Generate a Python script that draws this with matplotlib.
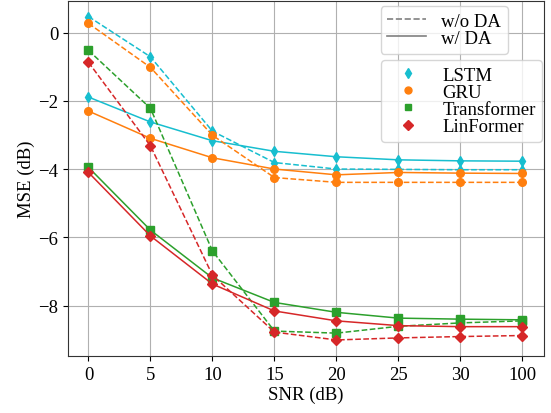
import matplotlib
matplotlib.use("Agg")
import matplotlib.pyplot as plt
from matplotlib.lines import Line2D

plt.rcParams['font.family'] = ['Liberation Serif', 'DejaVu Serif']
plt.rcParams['mathtext.fontset'] = 'stix'

snr_labels = ["0", "5", "10", "15", "20", "25", "30", "100"]
models = ["LSTM", "GRU", "Transformer", "LinFormer"]

lstm_wo = [0.47, -0.71, -2.89, -3.81, -4.00, -4.01, -4.02, -4.02]
lstm_w = [-1.89, -2.62, -3.17, -3.48, -3.64, -3.73, -3.76, -3.77]
gru_wo = [0.27, -1.02, -3.01, -4.25, -4.39, -4.39, -4.39, -4.39]
gru_w = [-2.30, -3.10, -3.67, -4.00, -4.17, -4.10, -4.12, -4.13]
trans_wo = [-0.52, -2.22, -6.40, -8.75, -8.81, -8.61, -8.51, -8.45]
trans_w = [-3.95, -5.79, -7.19, -7.91, -8.20, -8.37, -8.40, -8.42]
lin_wo = [-0.87, -3.32, -7.11, -8.78, -9.01, -8.95, -8.91, -8.88]
lin_w = [-4.10, -5.96, -7.37, -8.16, -8.45, -8.59, -8.62, -8.62]

colors = ['#17becf', '#ff7f0e', '#2ca02c', '#d62728']
markers = ['d', 'o', 's', 'D']
wo_data = [lstm_wo, gru_wo, trans_wo, lin_wo]
w_data = [lstm_w, gru_w, trans_w, lin_w]

fig = plt.figure(figsize=(5.51, 4.14), dpi=100)
ax = fig.add_axes([0.1234, 0.1377, 0.864, 0.857])
x = list(range(len(snr_labels)))

for name, c, m, wo, w in zip(models, colors, markers, wo_data, w_data):
    ax.plot(x, wo, linestyle='--', color=c, marker=m, markersize=5.5, linewidth=1.1)
    ax.plot(x, w, linestyle='-', color=c, marker=m, markersize=5.5, linewidth=1.1)

ax.set_xticks(x)
ax.set_xticklabels(snr_labels)
ax.set_xlim(-0.33, 7.35)
ax.set_ylim(-9.48, 0.92)
ax.set_yticks([0, -2, -4, -6, -8])
ax.tick_params(labelsize=13.5)
ax.grid(True, color='#b0b0b0', linewidth=0.8)
for s in ax.spines.values():
    s.set_color('#333333')
ax.set_xlabel("SNR (dB)", fontsize=13.5, labelpad=2)
ax.set_ylabel("MSE (dB)", fontsize=13.5, labelpad=2)

h1 = [Line2D([0], [0], color='gray', linestyle='--', linewidth=1.2),
      Line2D([0], [0], color='gray', linestyle='-', linewidth=1.2)]
leg1 = ax.legend(h1, ["w/o DA", "w/ DA"], loc='upper right', bbox_to_anchor=(0.924, 0.986),
                 fontsize=13.5, handlelength=2.1, labelspacing=0.0, borderpad=0.35,
                 borderaxespad=0)
ax.add_artist(leg1)
h2 = [Line2D([0], [0], color=c, marker=m, linestyle='None', markersize=5)
      for c, m in zip(colors, markers)]
ax.legend(h2, models, loc='upper right', bbox_to_anchor=(0.996, 0.834), fontsize=13.5,
          labelspacing=0.0, borderpad=0.35, borderaxespad=0, handlelength=2.1)

fig.savefig("out.png", dpi=100)
